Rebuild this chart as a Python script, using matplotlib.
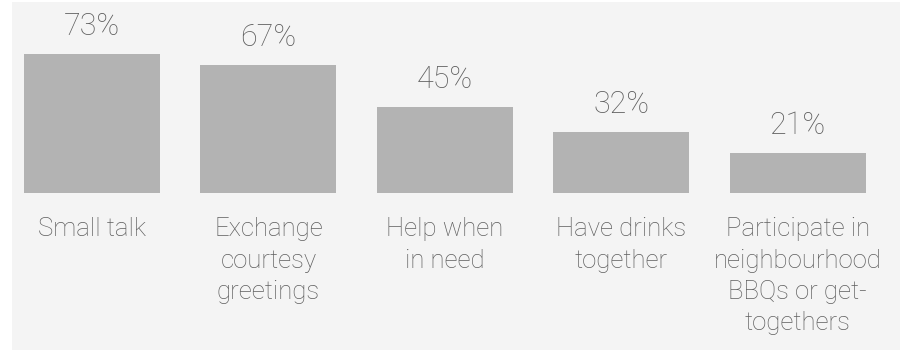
import matplotlib
matplotlib.use("Agg")
import matplotlib.pyplot as plt

categories = ["Small talk", "Exchange\ncourtesy\ngreetings", "Help when\nin need",
              "Have drinks\ntogether", "Participate in\nneighbourhood\nBBQs or get-\ntogethers"]
values = [73, 67, 45, 32, 21]
value_labels = ["73%", "67%", "45%", "32%", "21%"]

W, H, DPI = 903, 351, 100
fig = plt.figure(figsize=(W / DPI, H / DPI), dpi=DPI, facecolor="white")
ax = fig.add_axes([12 / W, 1 - 350 / H, (900 - 12) / W, (350 - 2) / H])
ax.set_facecolor("#f4f4f4")

x = list(range(len(categories)))
ax.bar(x, values, width=0.771, color="#b3b3b3", edgecolor="none")

ax.set_xlim(-0.4535, 4.580)
ax.set_ylim(-82.5, 100.3)
for s in ax.spines.values():
    s.set_visible(False)
ax.set_xticks([])
ax.set_yticks([])

font = "Roboto"
txt_color = "#5e5e5e"
for xi, v, lab in zip(x, values, value_labels):
    ax.annotate(lab, (xi, v), xytext=(0, 14), textcoords="offset points",
                ha="center", va="baseline", fontsize=22, color=txt_color,
                family=font, fontweight="light")
for xi, cat in zip(x, categories):
    ax.annotate(cat, (xi, 0), xytext=(0, -17.5), textcoords="offset points",
                ha="center", va="top", fontsize=18.5, color=txt_color,
                family=font, fontweight="light", linespacing=1.39,
                multialignment="center")

fig.savefig("out.png", dpi=DPI, facecolor="white")
